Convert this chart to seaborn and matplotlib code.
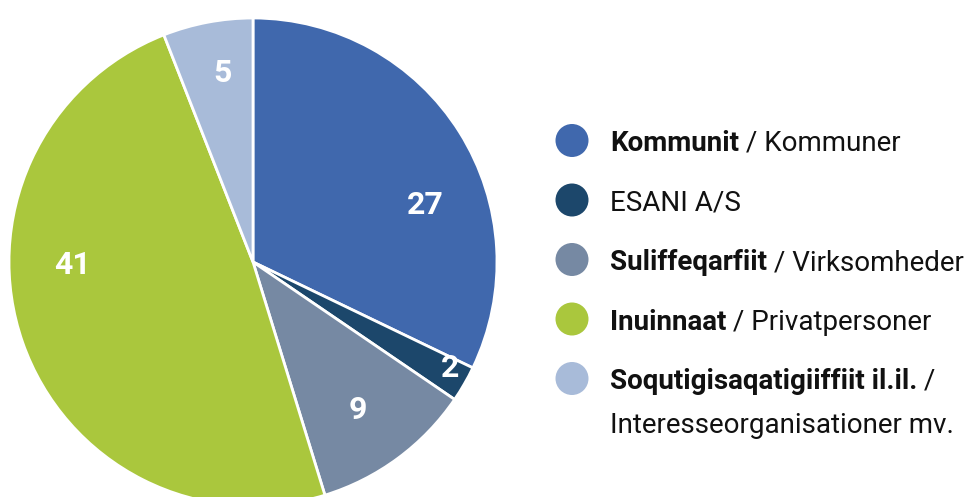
import matplotlib
matplotlib.use("Agg")
import matplotlib.pyplot as plt
import seaborn as sns
import numpy as np

sns.set_theme(style="white")
plt.rcParams['font.family'] = ['Roboto', 'DejaVu Sans']

# ---- data ----
values = [27, 2, 9, 41, 5]
value_labels = ["27", "2", "9", "41", "5"]
names_bold = ["Kommunit", "", "Suliffeqarfiit", "Inuinnaat", "Soqutigisaqatigiiffiit il.il."]
names_regular = [" / Kommuner", "ESANI A/S", " / Virksomheder", " / Privatpersoner",
                 " /\nInteresseorganisationer mv."]
colors = ["#4068AD", "#1C476B", "#7689A3", "#AAC73D", "#A8BBD9"]

# label placement (data units of the pie, radius = 1)
label_xy = [(0.705, 0.234), (0.807, -0.434), (0.43, -0.607), (-0.738, -0.012), (-0.127, 0.775)]

W, H = 973, 497
fig = plt.figure(figsize=(W / 100, H / 100), dpi=100)
fig.patch.set_facecolor("white")

cx, cy, r = 253, 262, 244
ax = fig.add_axes([(cx - r) / W, (H - cy - r) / H, 2 * r / W, 2 * r / H])
ax.pie(values, colors=colors, startangle=90, counterclock=False, radius=1,
       wedgeprops=dict(edgecolor="white", linewidth=2.0))
ax.set_xlim(-1, 1)
ax.set_ylim(-1, 1)
ax.set_aspect("equal")
ax.axis("off")

for (x, y), t in zip(label_xy, value_labels):
    ax.text(x, y, t, ha="center", va="center", color="white",
            fontsize=23, fontweight="bold")

# ---- legend ----
lax = fig.add_axes([0, 0, 1, 1])
lax.set_xlim(0, W)
lax.set_ylim(H, 0)
lax.axis("off")
lax.patch.set_alpha(0)

y0, dy = 140.5, 59.5
mx, tx = 572, 610
ys = [y0 + i * dy for i in range(len(values))]
lax.scatter([mx] * len(values), ys, s=(33 * 0.72) ** 2, c=colors, linewidths=0)
for y, b, rtxt in zip(ys, names_bold, names_regular):
    if b:
        bt = lax.text(tx, y, b, ha="left", va="center_baseline", fontsize=20,
                      fontweight="bold", color="#111111")
        lines = rtxt.split("\n")
        lax.annotate(lines[0], xy=(1, 0), xycoords=bt, ha="left", va="bottom",
                     fontsize=20, color="#111111")
        if len(lines) > 1:
            lax.text(tx, y + 44, lines[1], ha="left", va="center_baseline",
                     fontsize=20, color="#111111")
    else:
        lax.text(tx, y, rtxt, ha="left", va="center_baseline", fontsize=20,
                 color="#111111")

fig.savefig("out.png", dpi=100, facecolor="white")
